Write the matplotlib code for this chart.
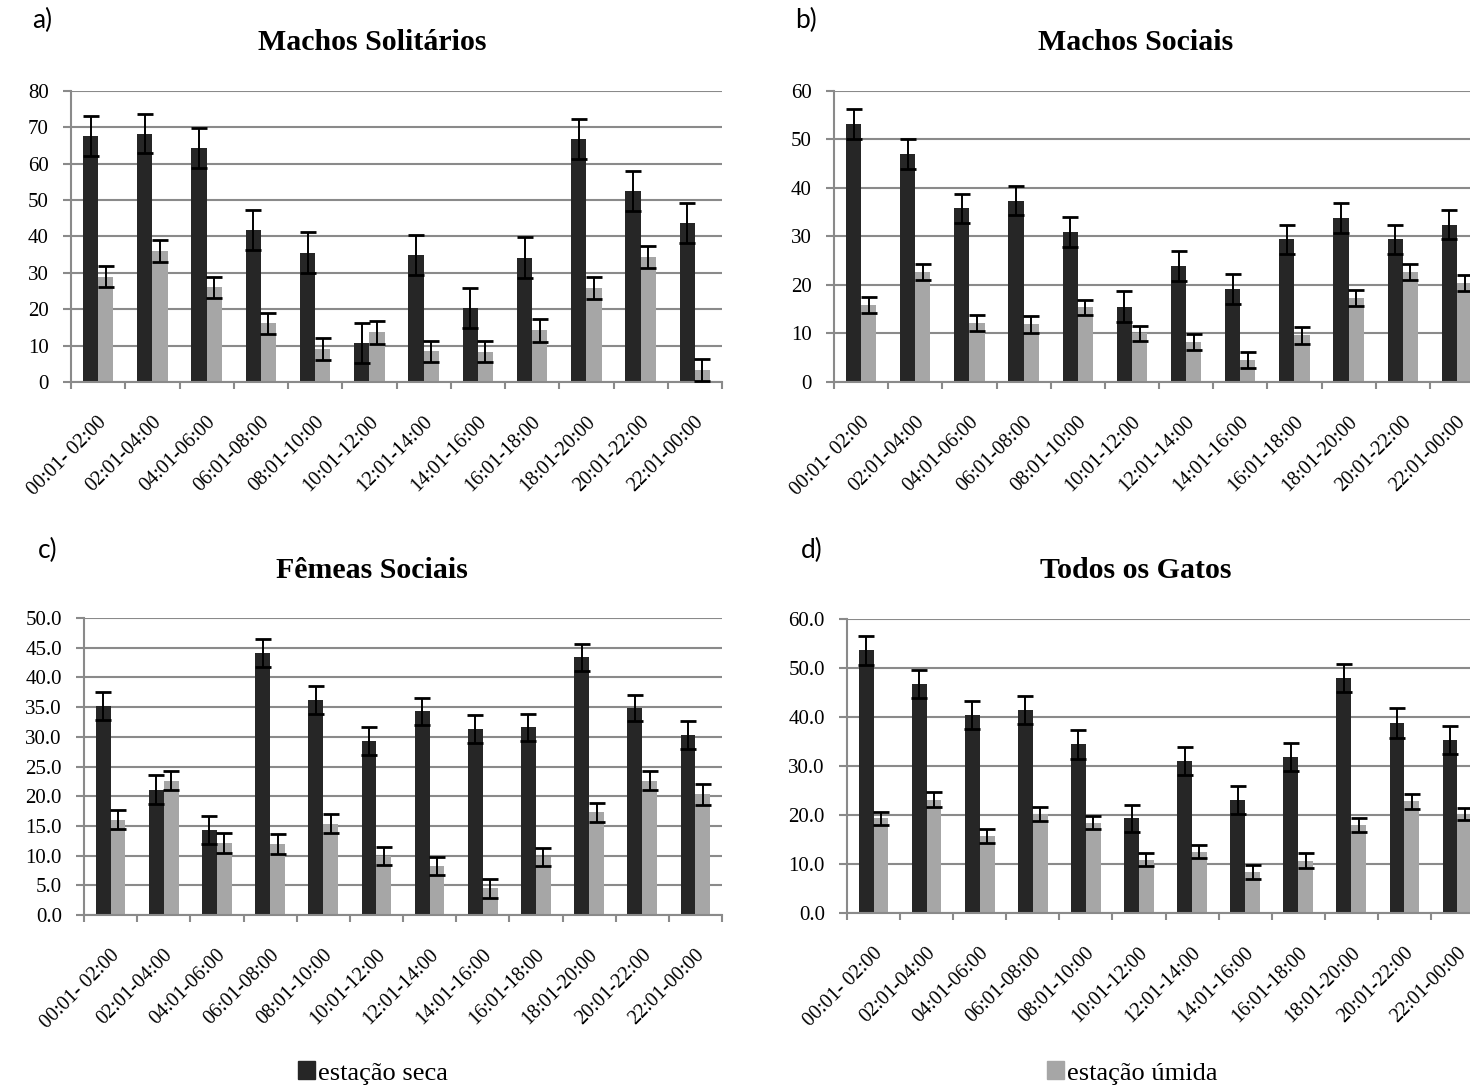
import matplotlib
matplotlib.use("Agg")
import matplotlib.pyplot as plt
import matplotlib.patches as mpatches
from matplotlib.transforms import ScaledTranslation
import numpy as np

W, H = 1470, 1091
DARK = "#262626"
LIGHT = "#a6a6a6"
GRID = "#8a8a8a"
SERIF = "Liberation Serif"

horarios = ["00:01- 02:00", "02:01-04:00", "04:01-06:00", "06:01-08:00",
            "08:01-10:00", "10:01-12:00", "12:01-14:00", "14:01-16:00",
            "16:01-18:00", "18:01-20:00", "20:01-22:00", "22:01-00:00"]

# machos solitarios
ms_seca = [67.6, 68.3, 64.3, 41.8, 35.6, 10.7, 34.9, 20.4, 34.2, 66.9, 52.5, 43.7]
ms_seca_err = [5.4, 5.4, 5.4, 5.5, 5.5, 5.5, 5.6, 5.5, 5.6, 5.5, 5.5, 5.6]
ms_umida = [29.0, 36.0, 26.1, 16.2, 9.1, 13.7, 8.4, 8.3, 14.2, 25.8, 34.4, 3.4]
ms_umida_err = [3.0, 3.1, 2.9, 2.9, 3.1, 3.2, 3.0, 2.9, 3.1, 3.0, 3.1, 3.0]

# machos sociais
mso_seca = [53.2, 47.0, 35.8, 37.4, 30.9, 15.5, 23.9, 19.1, 29.4, 33.9, 29.4, 32.4]
mso_seca_err = [3.0, 3.1, 3.0, 3.0, 3.1, 3.2, 3.1, 3.1, 3.0, 3.1, 3.0, 3.0]
mso_umida = [15.9, 22.7, 12.2, 11.9, 15.4, 10.0, 8.3, 4.5, 9.6, 17.3, 22.7, 20.4]
mso_umida_err = [1.7, 1.7, 1.7, 1.7, 1.6, 1.5, 1.6, 1.7, 1.8, 1.6, 1.7, 1.7]

# femeas sociais
fs_seca = [35.2, 21.1, 14.3, 44.1, 36.2, 29.3, 34.3, 31.3, 31.6, 43.4, 34.9, 30.3]
fs_seca_err = [2.4, 2.4, 2.3, 2.4, 2.4, 2.3, 2.3, 2.4, 2.3, 2.3, 2.2, 2.3]
fs_umida = [16.0, 22.6, 12.1, 11.9, 15.4, 9.9, 8.3, 4.5, 9.7, 17.3, 22.6, 20.3]
fs_umida_err = [1.6, 1.6, 1.7, 1.7, 1.6, 1.5, 1.5, 1.6, 1.5, 1.6, 1.6, 1.8]

# todos os gatos
tg_seca = [53.6, 46.7, 40.4, 41.4, 34.4, 19.3, 31.0, 23.1, 31.8, 48.0, 38.8, 35.3]
tg_seca_err = [2.9, 2.8, 2.9, 2.9, 2.9, 2.8, 2.9, 2.8, 2.8, 2.9, 3.0, 2.9]
tg_umida = [19.3, 23.1, 15.7, 20.2, 18.4, 10.9, 12.5, 8.4, 10.7, 18.0, 22.8, 20.2]
tg_umida_err = [1.4, 1.5, 1.5, 1.4, 1.3, 1.3, 1.3, 1.4, 1.5, 1.4, 1.5, 1.3]


def rect(left, top, right, bottom):
    return [left / W, 1 - bottom / H, (right - left) / W, (bottom - top) / H]


def painel(ax, seca, seca_err, umida, umida_err, ymax, ystep, fmt):
    x = np.arange(len(horarios))
    w = 0.28
    ax.bar(x - w / 2, seca, w, color=DARK, zorder=2)
    ax.bar(x + w / 2, umida, w, color=LIGHT, zorder=2)
    eb = dict(fmt="none", ecolor="black", elinewidth=1.4, capsize=5.5, capthick=2, zorder=3)
    ax.errorbar(x - w / 2, seca, yerr=seca_err, **eb)
    ax.errorbar(x + w / 2, umida, yerr=umida_err, **eb)

    ax.set_xlim(-0.5, len(horarios) - 0.5)
    ax.set_ylim(0, ymax)
    ticks = np.arange(0, ymax + ystep / 2, ystep)
    ax.set_yticks(ticks)
    ax.set_yticklabels([fmt.format(v) for v in ticks], fontfamily=SERIF, fontsize=15)
    ax.yaxis.grid(True, color=GRID, linewidth=1.5)
    ax.set_axisbelow(True)

    ax.set_xticks(x)
    ax.set_xticks(np.arange(-0.5, len(horarios)), minor=True)
    ax.set_xticklabels(horarios, rotation=45, ha="right", va="center",
                       rotation_mode="anchor", fontfamily=SERIF, fontsize=14.5)
    ax.tick_params(axis="x", which="major", length=0, pad=27)
    ax.tick_params(axis="x", which="minor", length=5, width=1.5, color=GRID, direction="out")
    ax.tick_params(axis="y", length=6, width=1.5, color=GRID, direction="out", pad=10)
    off = ScaledTranslation(6 / 100, 0, ax.figure.dpi_scale_trans)
    for lbl in ax.get_xticklabels():
        lbl.set_transform(lbl.get_transform() + off)

    for s in ["top", "right"]:
        ax.spines[s].set_visible(False)
    for s in ["left", "bottom"]:
        ax.spines[s].set_color(GRID)
        ax.spines[s].set_linewidth(1.5)


fig = plt.figure(figsize=(W / 100, H / 100), dpi=100)

ax_a = fig.add_axes(rect(71, 91, 722, 382))
painel(ax_a, ms_seca, ms_seca_err, ms_umida, ms_umida_err, 80, 10, "{:.0f}")
ax_b = fig.add_axes(rect(834, 91, 1484, 382))
painel(ax_b, mso_seca, mso_seca_err, mso_umida, mso_umida_err, 60, 10, "{:.0f}")
ax_c = fig.add_axes(rect(84, 618, 722, 915))
painel(ax_c, fs_seca, fs_seca_err, fs_umida, fs_umida_err, 50, 5, "{:.1f}")
ax_d = fig.add_axes(rect(847, 619, 1484, 913))
painel(ax_d, tg_seca, tg_seca_err, tg_umida, tg_umida_err, 60, 10, "{:.1f}")

titulos = [("a)", "Machos Solitários", 32, 20, 372, 42),
           ("b)", "Machos Sociais", 795, 20, 1136, 42),
           ("c)", "Fêmeas Sociais", 38, 550, 372, 570),
           ("d)", "Todos os Gatos", 801, 550, 1136, 570)]
for letra, titulo, lx, ly, tx, ty in titulos:
    fig.text(lx / W, 1 - ly / H, letra, family="Lato", fontsize=19, ha="left", va="center")
    fig.text(tx / W, 1 - ty / H, titulo, family=SERIF, fontweight="bold", fontsize=21.5,
             ha="center", va="center")

leg_kw = dict(frameon=False, prop={"family": SERIF, "size": 19}, handlelength=0.65,
              handleheight=0.65, handletextpad=0.1, borderpad=0, borderaxespad=0)
fig.legend(handles=[mpatches.Patch(color=DARK, label="estação seca")],
           loc="center left", bbox_to_anchor=(298 / W, 1 - 1073 / H), **leg_kw)
fig.legend(handles=[mpatches.Patch(color=LIGHT, label="estação úmida")],
           loc="center left", bbox_to_anchor=(1047 / W, 1 - 1073 / H), **leg_kw)

fig.savefig("out.png", dpi=100)
